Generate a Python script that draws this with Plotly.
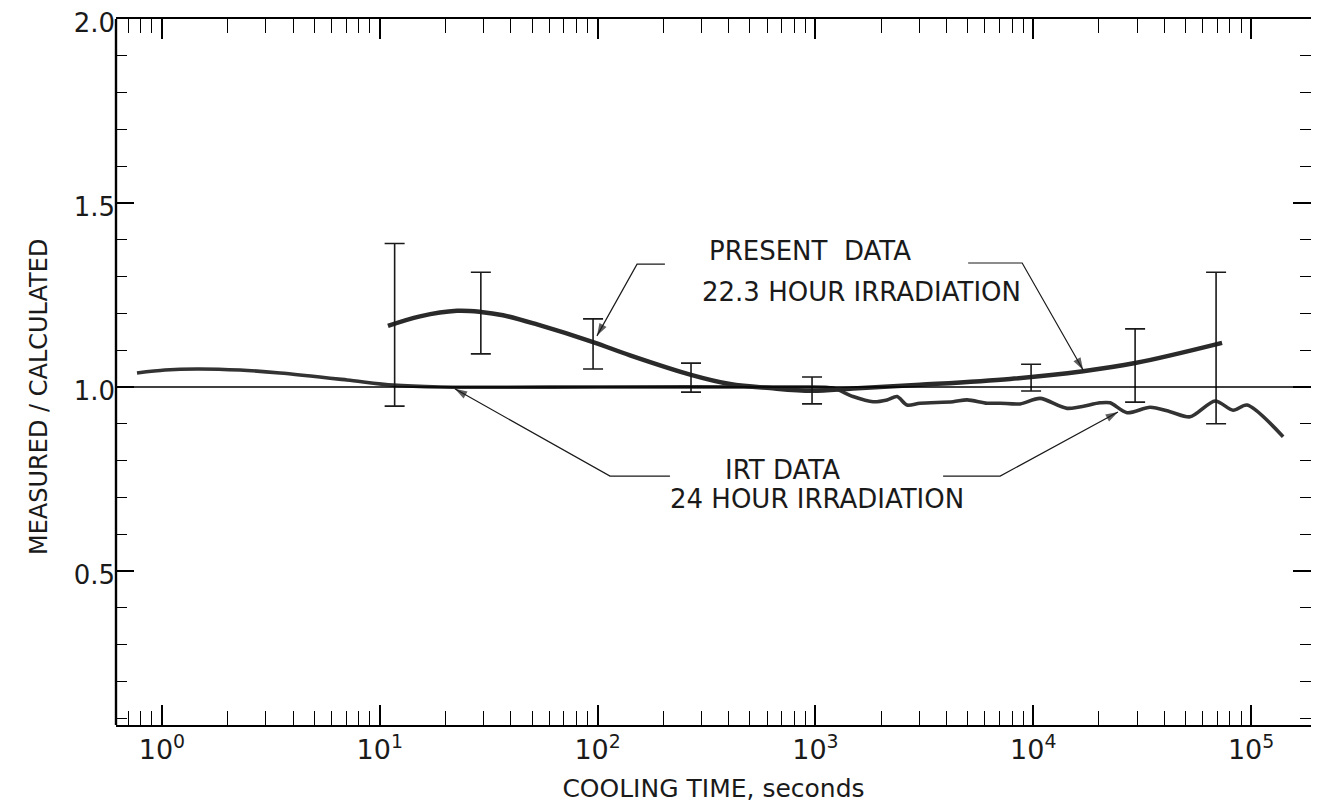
import numpy as np
import plotly.graph_objects as go

# ---------------- data ----------------
# Present data (22.3 hour irradiation) smooth curve
present_t = [10.9, 15.3, 22.6, 29.1, 36.8, 52.7, 95.3, 140.9, 268.4, 405.4, 618.8,
             964.7, 1488, 3022, 7826, 16930, 29340, 73580]
present_v = [1.166, 1.192, 1.207, 1.204, 1.195, 1.170, 1.122, 1.086, 1.033, 1.008, 0.997,
             0.990, 0.996, 1.006, 1.022, 1.043, 1.065, 1.120]

# Present data error bars
err_t = [11.7, 29.1, 95.3, 268.4, 964.7, 9772, 29340, 69060]
err_c = [1.170, 1.204, 1.122, 1.033, 0.990, 1.025, 1.065, 1.115]
err_hi = [1.390, 1.312, 1.185, 1.065, 1.027, 1.062, 1.158, 1.312]
err_lo = [0.948, 1.090, 1.049, 0.986, 0.954, 0.989, 0.959, 0.900]

# IRT data (24 hour irradiation)
irt_t = [0.768, 1.032, 1.448, 2.281, 3.482, 7.07, 11.5, 18.9, 102.6, 849.8, 1204, 1488,
         1839, 2132, 2370, 2634, 3022, 4283, 4968, 6136, 7040, 8699, 10745, 14300,
         20260, 22520, 26960, 34390, 42480, 52480, 68330, 82660, 95850, 140300]
irt_v = [1.038, 1.046, 1.049, 1.046, 1.038, 1.019, 1.005, 1.000, 1.000, 1.000, 0.997, 0.974,
         0.960, 0.965, 0.974, 0.951, 0.956, 0.960, 0.965, 0.956, 0.956, 0.954, 0.969, 0.942,
         0.957, 0.957, 0.930, 0.945, 0.933, 0.919, 0.962, 0.937, 0.951, 0.865]

# Labels and leader lines
present_label = ["PRESENT  DATA", "22.3 HOUR IRRADIATION"]
irt_label = ["IRT DATA", "24 HOUR IRRADIATION"]
# each leader: horizontal segment start -> corner -> arrow tip  (t, v)
leaders = [
    [(203.7, 1.334), (151.7, 1.334), (99.3, 1.139)],
    [(5023, 1.337), (8892, 1.337), (16940, 1.046)],
    [(214.8, 0.758), (114.0, 0.758), (22.1, 0.995)],
    [(3855, 0.758), (7047, 0.758), (24490, 0.932)],
]

x_tickvals = [1, 10, 100, 1000, 10000, 100000]
x_ticktext = ["10<sup>0</sup>", "10<sup>1</sup>", "10<sup>2</sup>", "10<sup>3</sup>",
              "10<sup>4</sup>", "10<sup>5</sup>"]
x_minor = [m * 10.0 ** d for d in range(-1, 6) for m in range(2, 10)]
y_tickvals = [0.5, 1.0, 1.5, 2.0]
y_ticktext = ["0.5", "1.0", "1.5", "2.0"]

FONT = "DejaVu Sans"
INK = "#1a1a1a"

fig = go.Figure()

# reference line at 1.0 and left axis line
fig.add_shape(type="line", xref="paper", x0=0, x1=1, yref="y", y0=1.0, y1=1.0,
              line=dict(color="#000", width=1.3))
fig.add_shape(type="line", xref="paper", x0=0, x1=0, yref="paper", y0=0, y1=1,
              line=dict(color="#000", width=2.4))

fig.add_trace(go.Scatter(x=irt_t, y=irt_v, mode="lines",
                         line=dict(color="#333", width=3.6, shape="spline", smoothing=0.8),
                         hoverinfo="skip", showlegend=False))
fig.add_trace(go.Scatter(x=present_t, y=present_v, mode="lines",
                         line=dict(color="#2a2a2a", width=4.5, shape="spline"),
                         hoverinfo="skip", showlegend=False))
fig.add_trace(go.Scatter(
    x=err_t, y=err_c, mode="markers", marker=dict(size=1, color="rgba(0,0,0,0)"),
    error_y=dict(type="data", symmetric=False,
                 array=[h - c for h, c in zip(err_hi, err_c)],
                 arrayminus=[c - l for l, c in zip(err_lo, err_c)],
                 width=10, thickness=1.6, color=INK),
    hoverinfo="skip", showlegend=False))

for pts in leaders:
    fig.add_trace(go.Scatter(
        x=[p[0] for p in pts], y=[p[1] for p in pts], mode="lines+markers",
        line=dict(color=INK, width=1.2),
        marker=dict(symbol="arrow", angleref="previous", size=[0, 0, 13], color=INK,
                    line=dict(width=0)),
        hoverinfo="skip", showlegend=False))

def label(text, t, v, size=26):
    fig.add_annotation(x=np.log10(t), y=v, xref="x", yref="y", text=text, showarrow=False,
                       font=dict(family=FONT, size=size, color=INK))

label(present_label[0], 944, 1.370)
label(present_label[1], 1622, 1.258)
label(irt_label[0], 703, 0.774)
label(irt_label[1], 1019, 0.696)

# y-axis title
fig.add_annotation(xref="paper", yref="paper", x=-0.065, y=0.465, text="MEASURED / CALCULATED",
                   textangle=-90, showarrow=False, font=dict(family=FONT, size=24, color=INK),
                   xanchor="center", yanchor="middle")

xr = [-0.211, 5.275]
yr = [0.0815, 2.0]

# the page body has an 8px margin; size the figure so the whole page is 1319x811
fig.update_layout(
    width=1303, height=795,
    margin=dict(l=108, r=0, t=11, b=78, autoexpand=False),
    paper_bgcolor="white", plot_bgcolor="white",
    font=dict(family=FONT, color=INK),
    xaxis=dict(type="log", range=xr, showgrid=False, zeroline=False, automargin=False,
               showline=True, linecolor="#000", linewidth=2, mirror="allticks",
               ticks="inside", ticklen=20, tickwidth=1.5, tickcolor="#000",
               tickvals=x_tickvals, ticktext=x_ticktext, ticklabeloverflow="allow",
               tickfont=dict(family=FONT, size=27, color=INK),
               minor=dict(ticks="inside", ticklen=14, tickwidth=1.3, tickcolor="#000",
                          tickvals=x_minor, showgrid=False),
               title=dict(text="COOLING TIME, seconds", font=dict(family=FONT, size=25, color=INK),
                          standoff=19)),
    yaxis=dict(range=yr, showgrid=False, zeroline=False, automargin=False,
               showline=False, mirror="allticks",
               ticks="inside", ticklen=18, tickwidth=1.5, tickcolor="#000",
               tickvals=y_tickvals, ticktext=y_ticktext, ticklabeloverflow="allow",
               ticklabelshift=4,
               tickfont=dict(family=FONT, size=26, color=INK),
               minor=dict(ticks="inside", ticklen=11, tickwidth=1.3, tickcolor="#000",
                          dtick=0.1, tick0=0, showgrid=False)),
)

fig.write_html("out.html")
